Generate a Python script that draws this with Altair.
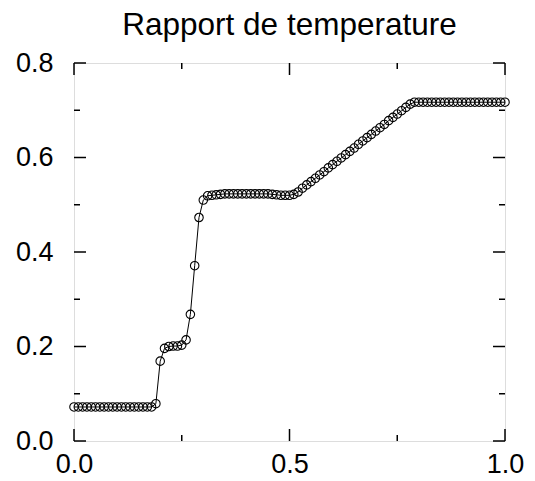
import altair as alt
import pandas as pd

x_vals = [
    0.00, 0.01, 0.02, 0.03, 0.04, 0.05, 0.06, 0.07, 0.08, 0.09,
    0.10, 0.11, 0.12, 0.13, 0.14, 0.15, 0.16, 0.17, 0.18, 0.19,
    0.20, 0.21, 0.22, 0.23, 0.24, 0.25, 0.26, 0.27, 0.28, 0.29,
    0.30, 0.31, 0.32, 0.33, 0.34, 0.35, 0.36, 0.37, 0.38, 0.39,
    0.40, 0.41, 0.42, 0.43, 0.44, 0.45, 0.46, 0.47, 0.48, 0.49,
    0.50, 0.51, 0.52, 0.53, 0.54, 0.55, 0.56, 0.57, 0.58, 0.59,
    0.60, 0.61, 0.62, 0.63, 0.64, 0.65, 0.66, 0.67, 0.68, 0.69,
    0.70, 0.71, 0.72, 0.73, 0.74, 0.75, 0.76, 0.77, 0.78, 0.79,
    0.80, 0.81, 0.82, 0.83, 0.84, 0.85, 0.86, 0.87, 0.88, 0.89,
    0.90, 0.91, 0.92, 0.93, 0.94, 0.95, 0.96, 0.97, 0.98, 0.99,
    1.00,
]

y_vals = [
    0.072, 0.072, 0.072, 0.072, 0.072, 0.072, 0.072, 0.072, 0.072, 0.072,
    0.072, 0.072, 0.072, 0.072, 0.072, 0.072, 0.072, 0.072, 0.072, 0.079,
    0.169, 0.196, 0.200, 0.201, 0.201, 0.203, 0.214, 0.268, 0.371, 0.473,
    0.510, 0.519, 0.520, 0.521, 0.522, 0.523, 0.523, 0.523, 0.523, 0.523,
    0.523, 0.523, 0.523, 0.523, 0.523, 0.523, 0.522, 0.521, 0.520, 0.520,
    0.520, 0.522, 0.527, 0.535, 0.542, 0.549, 0.556, 0.563, 0.570, 0.578,
    0.585, 0.592, 0.599, 0.606, 0.613, 0.620, 0.628, 0.635, 0.642, 0.649,
    0.656, 0.663, 0.670, 0.678, 0.685, 0.692, 0.699, 0.706, 0.713, 0.717,
    0.717, 0.717, 0.717, 0.717, 0.717, 0.717, 0.717, 0.717, 0.717, 0.717,
    0.717, 0.717, 0.717, 0.717, 0.717, 0.717, 0.717, 0.717, 0.717, 0.717,
    0.717,
]

x_major = [0.0, 0.5, 1.0]
x_minor = [0.25, 0.75]
y_major = [0.0, 0.2, 0.4, 0.6, 0.8]
y_minor = [0.1, 0.3, 0.5, 0.7]

title_text = "Rapport de temperature"

W, H = 431, 378
MAJ, MIN = 12, 6
FONT = "Liberation Sans"
SW = 1.5

df = pd.DataFrame({"x": x_vals, "y": y_vals})

xs = alt.Scale(domain=[0, 1], nice=False, zero=False)
ys = alt.Scale(domain=[0, 0.8], nice=False, zero=False)

x_axis = alt.Axis(values=x_major, format=".1f", ticks=False, tickSize=0,
                  domain=False, grid=False, labelFontSize=27, labelFont=FONT,
                  labelColor="black", labelPadding=10, title=None,
                  labelFlush=False)
y_axis = alt.Axis(values=y_major, format=".1f", ticks=False, tickSize=0,
                  domain=False, grid=False, labelFontSize=27, labelFont=FONT,
                  labelColor="black", labelPadding=21, title=None,
                  labelFlush=False)

base = alt.Chart(df)

line = base.mark_line(color="black", strokeWidth=1).encode(
    x=alt.X("x:Q", scale=xs, axis=x_axis),
    y=alt.Y("y:Q", scale=ys, axis=y_axis),
)

points = base.mark_point(shape="circle", filled=False, color="black",
                         size=72, strokeWidth=1.1, opacity=1).encode(
    x=alt.X("x:Q", scale=xs),
    y=alt.Y("y:Q", scale=ys),
)

def xticks(vals, length):
    d = alt.Chart(pd.DataFrame({"t": vals}))
    bottom = d.mark_rule(color="black", strokeWidth=SW).encode(
        x=alt.X("t:Q", scale=xs), y=alt.value(H), y2=alt.value(H - length))
    top = d.mark_rule(color="black", strokeWidth=SW).encode(
        x=alt.X("t:Q", scale=xs), y=alt.value(0), y2=alt.value(length))
    return bottom + top

def yticks(vals, length):
    d = alt.Chart(pd.DataFrame({"t": vals}))
    left = d.mark_rule(color="black", strokeWidth=SW).encode(
        y=alt.Y("t:Q", scale=ys), x=alt.value(0), x2=alt.value(length))
    right = d.mark_rule(color="black", strokeWidth=SW).encode(
        y=alt.Y("t:Q", scale=ys), x=alt.value(W), x2=alt.value(W - length))
    return left + right

chart = alt.layer(
    line, points,
    xticks(x_major, MAJ), xticks(x_minor, MIN),
    yticks(y_major, MAJ), yticks(y_minor, MIN),
).properties(
    width=W, height=H,
    title=alt.TitleParams(title_text, fontSize=31.5, font=FONT,
                          fontWeight="normal", color="black",
                          anchor="middle", baseline="alphabetic", offset=-17),
    autosize=alt.AutoSizeParams(type="none"),
    padding={"left": 74, "top": 63, "right": 30, "bottom": 40},
).configure_view(
    stroke="black", strokeWidth=SW
).configure(background="white")

chart.save("out.html", embed_options={"renderer": "svg", "actions": False})
